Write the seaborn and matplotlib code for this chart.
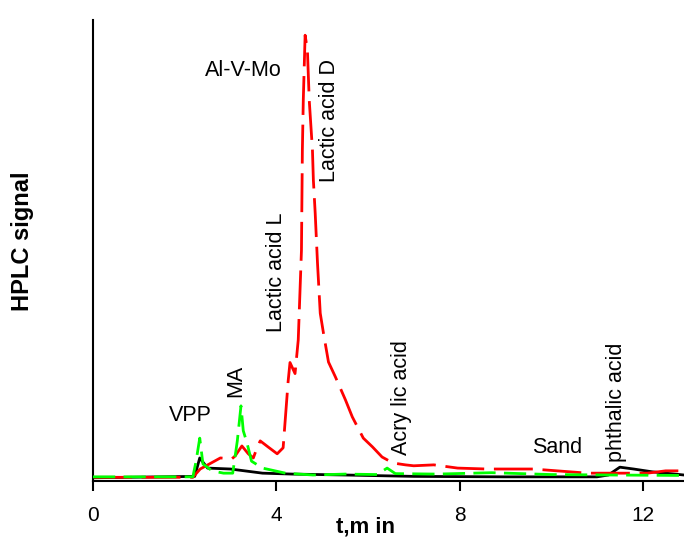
import matplotlib
matplotlib.use("Agg")
import matplotlib.pyplot as plt
import seaborn as sns
import pandas as pd

# ---- data ----
red_t = [0.0, 1.0, 2.18, 2.34, 2.78, 3.03, 3.10, 3.25, 3.39, 3.50, 3.58, 3.65, 3.82, 4.02, 4.15,
         4.26, 4.30, 4.41, 4.48, 4.55, 4.57, 4.59, 4.63, 4.68, 4.72, 4.79, 4.81, 4.85, 4.90,
         4.96, 5.03, 5.14, 5.29, 5.51, 5.66, 5.90, 6.10, 6.31, 6.55, 6.82, 7.00, 7.44, 7.96,
         8.60, 9.60, 10.80, 12.10, 12.50, 12.90]
red_y = [0.8, 0.8, 0.8, 2.6, 5.0, 4.8, 5.4, 7.6, 5.9, 5.0, 7.2, 8.7, 7.4, 5.9, 7.2,
         21.7, 25.7, 23.3, 30.6, 50.0, 71.8, 82.6, 96.7, 93.5, 82.6, 71.8, 65.3, 58.1, 47.3,
         36.4, 32.1, 25.8, 22.6, 17.6, 13.9, 9.3, 7.4, 5.2, 3.9, 3.5, 3.3, 3.5, 2.8,
         2.6, 2.6, 1.7, 1.7, 2.2, 2.2]

green_t = [0.0, 2.18, 2.25, 2.33, 2.40, 2.60, 2.85, 3.05, 3.15, 3.23, 3.28, 3.36, 3.46, 3.70,
           4.20, 4.80, 5.50, 6.20, 6.42, 6.60, 7.50, 8.70, 10.00, 11.30, 12.90]
green_y = [0.9, 0.9, 4.3, 9.3, 3.7, 2.2, 1.7, 1.7, 8.7, 16.3, 10.9, 8.3, 4.3, 2.8,
           1.7, 1.3, 1.5, 1.4, 2.8, 1.6, 1.5, 1.8, 1.4, 1.3, 1.2]

black_t = [0.0, 2.22, 2.33, 2.50, 3.00, 3.70, 4.35, 5.50, 7.00, 9.00, 11.00, 11.25, 11.50,
           11.80, 12.20, 12.90]
black_y = [0.7, 1.0, 5.0, 2.8, 2.6, 1.7, 1.5, 1.3, 1.0, 0.9, 0.9, 1.3, 3.0, 2.6, 2.0, 1.3]

x_ticks = [0, 4, 8, 12]

peak_labels = ["VPP", "MA", "Lactic acid L", "Al-V-Mo", "Lactic acid D",
               "Acry lic acid", "Sand", "phthalic acid"]
peak_x = [2.12, 3.12, 4.0, 3.28, 5.16, 6.73, 10.13, 11.42]
peak_y = [14.1, 21.7, 45.2, 89.0, 78.3, 18.0, 7.2, 17.0]
peak_rot = [0, 90, 90, 0, 90, 90, 0, 90]

# ---- plotting ----
sns.set_style("white")
plt.rcParams['font.family'] = ['Liberation Sans', 'DejaVu Sans']

fig = plt.figure(figsize=(6.84, 5.42), dpi=100)
ax = fig.add_axes([93 / 684, 1 - 481 / 542, 1 - 93 / 684, (481 - 20) / 542])

df_black = pd.DataFrame({"t": black_t, "y": black_y})
df_red = pd.DataFrame({"t": red_t, "y": red_y})
df_green = pd.DataFrame({"t": green_t, "y": green_y})

sns.lineplot(data=df_black, x="t", y="y", ax=ax, color="black", lw=2.0,
             estimator=None, sort=False, zorder=1)
sns.lineplot(data=df_red, x="t", y="y", ax=ax, color="#ff0000", lw=2.0,
             estimator=None, sort=False, zorder=2)
ax.lines[-1].set_dashes((14, 3.5))
sns.lineplot(data=df_green, x="t", y="y", ax=ax, color="#00ff00", lw=2.0,
             estimator=None, sort=False, zorder=3)
ax.lines[-1].set_dashes((8, 3))

ax.set_xlim(0, 12.9)
ax.set_ylim(0, 100)
ax.set_xticks(x_ticks)
ax.set_xticklabels([str(v) for v in x_ticks], fontsize=15, color="black")
ax.set_yticks([])
ax.tick_params(axis="x", direction="out", length=7, width=1.5, pad=11, bottom=True,
               colors="black")
for s in ["top", "right"]:
    ax.spines[s].set_visible(False)
for s in ["left", "bottom"]:
    ax.spines[s].set_color("black")
    ax.spines[s].set_linewidth(1.5)
ax.set_xlabel("")
ax.set_ylabel("")

for lab, px, py, rot in zip(peak_labels, peak_x, peak_y, peak_rot):
    ax.text(px, py, lab, rotation=rot, ha="center", va="center", fontsize=15.5, color="black")

fig.text(366 / 684, 1 - 527 / 542, "t,m in", ha="center", va="center",
         fontsize=16, fontweight="bold", color="black")
fig.text(22 / 684, 1 - 241 / 542, "HPLC signal", ha="center", va="center",
         rotation=90, fontsize=17, fontweight="bold", color="black")

fig.savefig("out.png", dpi=100)
